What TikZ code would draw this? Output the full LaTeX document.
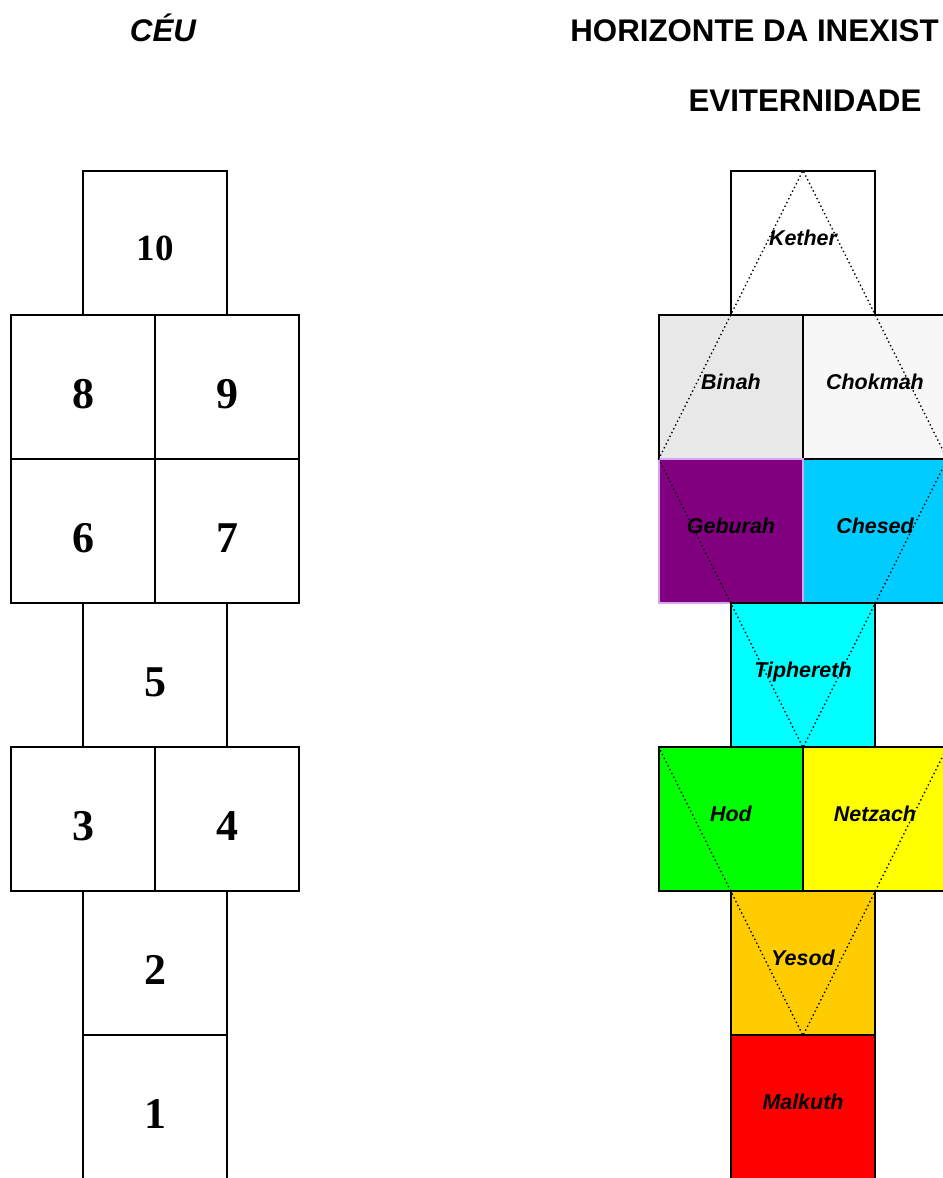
\documentclass[tikz,border=0pt]{standalone}
\usepackage{fontspec}
\setmainfont{Liberation Serif}
\setsansfont{Liberation Sans}

\definecolor{binahgray}{HTML}{E8E8E8}
\definecolor{chokmahgray}{HTML}{F7F7F7}
\definecolor{geburahpurple}{HTML}{800080}
\definecolor{geburahedge}{HTML}{D4A6F2}
\definecolor{chesedblue}{HTML}{00CCFF}
\definecolor{tipherethcyan}{HTML}{00FFFF}
\definecolor{hodgreen}{HTML}{00FF00}
\definecolor{netzachyellow}{HTML}{FFFF00}
\definecolor{yesodorange}{HTML}{FFCC00}
\definecolor{malkuthred}{HTML}{FF0000}

\begin{document}
\begin{tikzpicture}[x=0.02cm,y=-0.02cm,
    cell/.style={draw,line width=0.7pt,minimum width=2.88cm,minimum height=2.88cm,inner sep=0pt},
    num/.style={cell,font=\fontsize{25}{25}\selectfont\bfseries,text height=24.9pt,text depth=0pt},
    bignum/.style={cell,font=\fontsize{21}{21}\selectfont\bfseries,text height=19.4pt,text depth=0pt},
    sefira/.style={cell,font=\fontsize{12.2}{12.2}\selectfont\sffamily\bfseries\itshape,text height=5pt,text depth=2pt},
    heading/.style={inner sep=0pt,font=\fontsize{17.8}{17.8}\selectfont\sffamily\bfseries},
    trail/.style={line width=0.8pt,dash pattern=on 0.8pt off 1.6pt}]

\useasboundingbox (0,0) rectangle (943,1178);
\clip (0,0) rectangle (943,1178);

% Headings
\node[heading,anchor=base] (ceu) at (163,41) {\itshape CÉU};
\node[heading,anchor=base west] (horizonte) at (570,41) {HORIZONTE DA INEXIST};
\node[heading,anchor=base] (eviternidade) at (805,111) {EVITERNIDADE};

% Ceu (numbered column)
\node[bignum] (n10) at (155,243) {10};
\node[num] (n8) at (83,387) {8};
\node[num] (n9) at (227,387) {9};
\node[num] (n6) at (83,531) {6};
\node[num] (n7) at (227,531) {7};
\node[num] (n5) at (155,675) {5};
\node[num] (n3) at (83,819) {3};
\node[num] (n4) at (227,819) {4};
\node[num] (n2) at (155,963) {2};
\node[num] (n1) at (155,1107) {1};

% Eviternidade (sefirot)
\node[sefira] (kether) at (803,243) {Kether};
\node[sefira,fill=binahgray] (binah) at (731,387) {Binah};
\node[sefira,fill=chokmahgray] (chokmah) at (875,387) {Chokmah};
\node[sefira,fill=chesedblue] (chesed) at (875,531) {Chesed};
\node[sefira,fill=geburahpurple,draw=geburahedge] (geburah) at (731,531) {Geburah};
\node[sefira,fill=tipherethcyan] (tiphereth) at (803,675) {Tiphereth};
\node[sefira,fill=hodgreen] (hod) at (731,819) {Hod};
\node[sefira,fill=netzachyellow] (netzach) at (875,819) {Netzach};
\node[sefira,fill=yesodorange] (yesod) at (803,963) {Yesod};
\node[sefira,fill=malkuthred] (malkuth) at (803,1107) {Malkuth};

% Triangles
\draw[trail] (binah.south west) -- (kether.north) -- (chokmah.south east);
\draw[trail] (geburah.north west) -- (tiphereth.south) -- (chesed.north east);
\draw[trail] (hod.north west) -- (yesod.south) -- (netzach.north east);

\end{tikzpicture}
\end{document}
